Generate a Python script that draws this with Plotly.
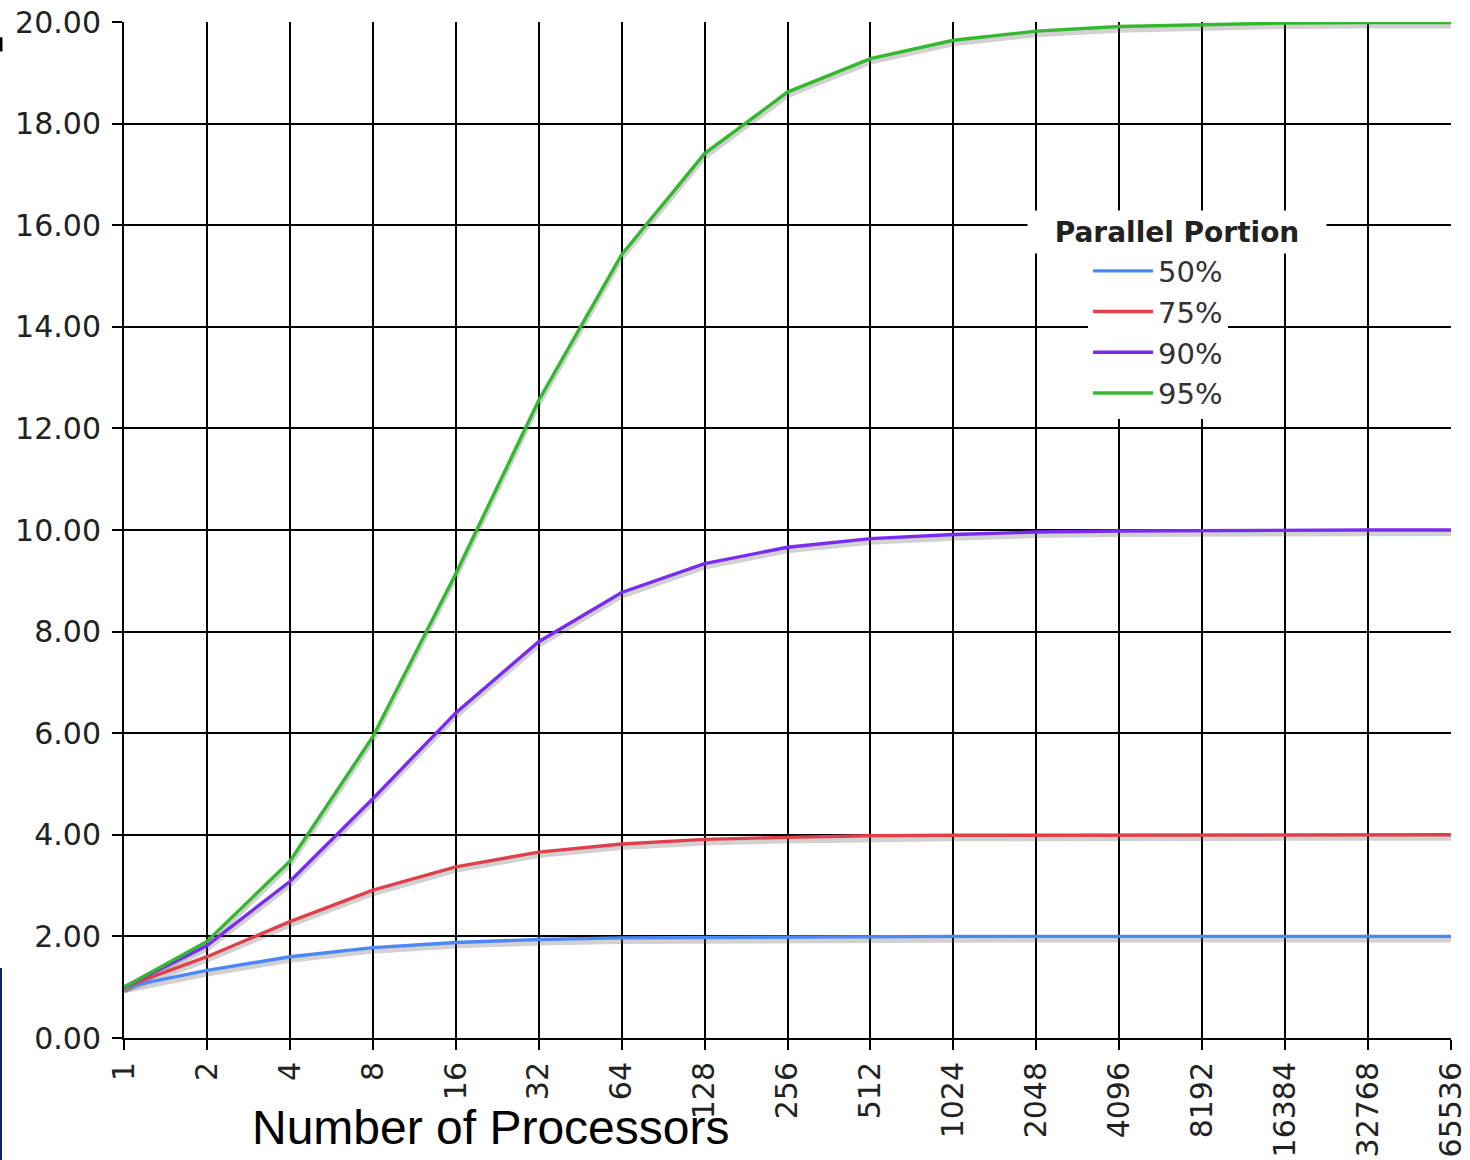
import plotly.graph_objects as go

processors = ["1", "2", "4", "8", "16", "32", "64", "128", "256", "512", "1024",
              "2048", "4096", "8192", "16384", "32768", "65536"]

s50 = [1.00, 1.33, 1.60, 1.78, 1.88, 1.94, 1.97, 1.98, 1.99, 2.00, 2.00, 2.00, 2.00, 2.00, 2.00, 2.00, 2.00]
s75 = [1.00, 1.60, 2.29, 2.91, 3.37, 3.66, 3.82, 3.91, 3.95, 3.98, 3.99, 3.99, 4.00, 4.00, 4.00, 4.00, 4.00]
s90 = [1.00, 1.82, 3.08, 4.71, 6.40, 7.80, 8.77, 9.34, 9.66, 9.83, 9.91, 9.96, 9.98, 9.99, 9.99, 10.00, 10.00]
s95 = [1.00, 1.90, 3.48, 5.93, 9.14, 12.55, 15.42, 17.41, 18.62, 19.28, 19.64, 19.82, 19.91, 19.95, 19.98, 19.99, 19.99]

series_names = ["50%", "75%", "90%", "95%"]
series_vals = [s50, s75, s90, s95]
colors = ["#4b88f6", "#e0404c", "#7a2bf0", "#34b82f"]

fig = go.Figure()

# anchor trace for the base axes (grid, ticks)
fig.add_trace(go.Scatter(x=processors, y=[None] * len(processors), mode="lines",
                         xaxis="x", yaxis="y", showlegend=False, hoverinfo="skip"))

# soft shadows (on a slightly shifted overlay axis)
for vals in series_vals:
    fig.add_trace(go.Scatter(x=processors, y=vals, mode="lines", xaxis="x", yaxis="y2",
                             line=dict(color="rgba(90,90,90,0.28)", width=5),
                             showlegend=False, hoverinfo="skip"))

for name, vals, col in zip(series_names, series_vals, colors):
    fig.add_trace(go.Scatter(x=processors, y=vals, mode="lines", name=name, xaxis="x", yaxis="y3",
                             line=dict(color=col, width=3.4)))

tick_font = dict(family="DejaVu Sans", size=30, color="#222222")

fig.update_layout(
    width=1470, height=1160, autosize=False,
    margin=dict(l=124, r=19, t=22, b=122),
    plot_bgcolor="white", paper_bgcolor="white",
    xaxis=dict(type="category", range=[0, 16], showgrid=True, gridcolor="black", gridwidth=2,
               showline=True, linecolor="black", linewidth=2,
               ticks="outside", ticklen=10, tickwidth=2, tickcolor="black",
               tickangle=-90, tickfont=tick_font, zeroline=False, automargin=False),
    yaxis=dict(range=[0, 20], dtick=2, tickformat=".2f", showgrid=True, gridcolor="black", gridwidth=2,
               showline=True, linecolor="black", linewidth=2,
               ticks="outside", ticklen=10, tickwidth=2, tickcolor="black",
               tickfont=tick_font, zeroline=False, automargin=False, ticklabelstandoff=5),
    yaxis2=dict(range=[0.07, 20.07], overlaying="y", visible=False),
    yaxis3=dict(range=[0, 20], overlaying="y", visible=False),
    legend=dict(x=0.7265, y=0.780, xanchor="left", yanchor="top", bgcolor="white",
                font=dict(family="DejaVu Sans", size=29, color="#333333"),
                itemwidth=60, tracegroupgap=0),
    showlegend=True,
    annotations=[
        dict(text="<b>Parallel Portion</b>", xref="paper", yref="paper", x=0.7935, y=0.793,
             xanchor="center", yanchor="middle", showarrow=False, bgcolor="white",
             width=296, height=40, font=dict(family="DejaVu Sans", size=28, color="#222222")),
        dict(text="Number of Processors", xref="paper", yref="paper", x=0.2766, y=-0.0876,
             xanchor="center", yanchor="middle", showarrow=False,
             font=dict(family="Liberation Sans", size=48, color="black")),
    ],
    shapes=[
        dict(type="line", xref="paper", yref="paper", x0=-0.0927, x1=-0.0927, y0=0.069, y1=-0.121,
             line=dict(color="#0a2266", width=2)),
        dict(type="line", xref="paper", yref="paper", x0=-0.0927, x1=-0.0927, y0=0.985, y1=0.971,
             line=dict(color="black", width=3)),
    ],
)

fig.write_html("out.html", config={"displayModeBar": False},
               post_script="document.body.style.margin='0px';")
